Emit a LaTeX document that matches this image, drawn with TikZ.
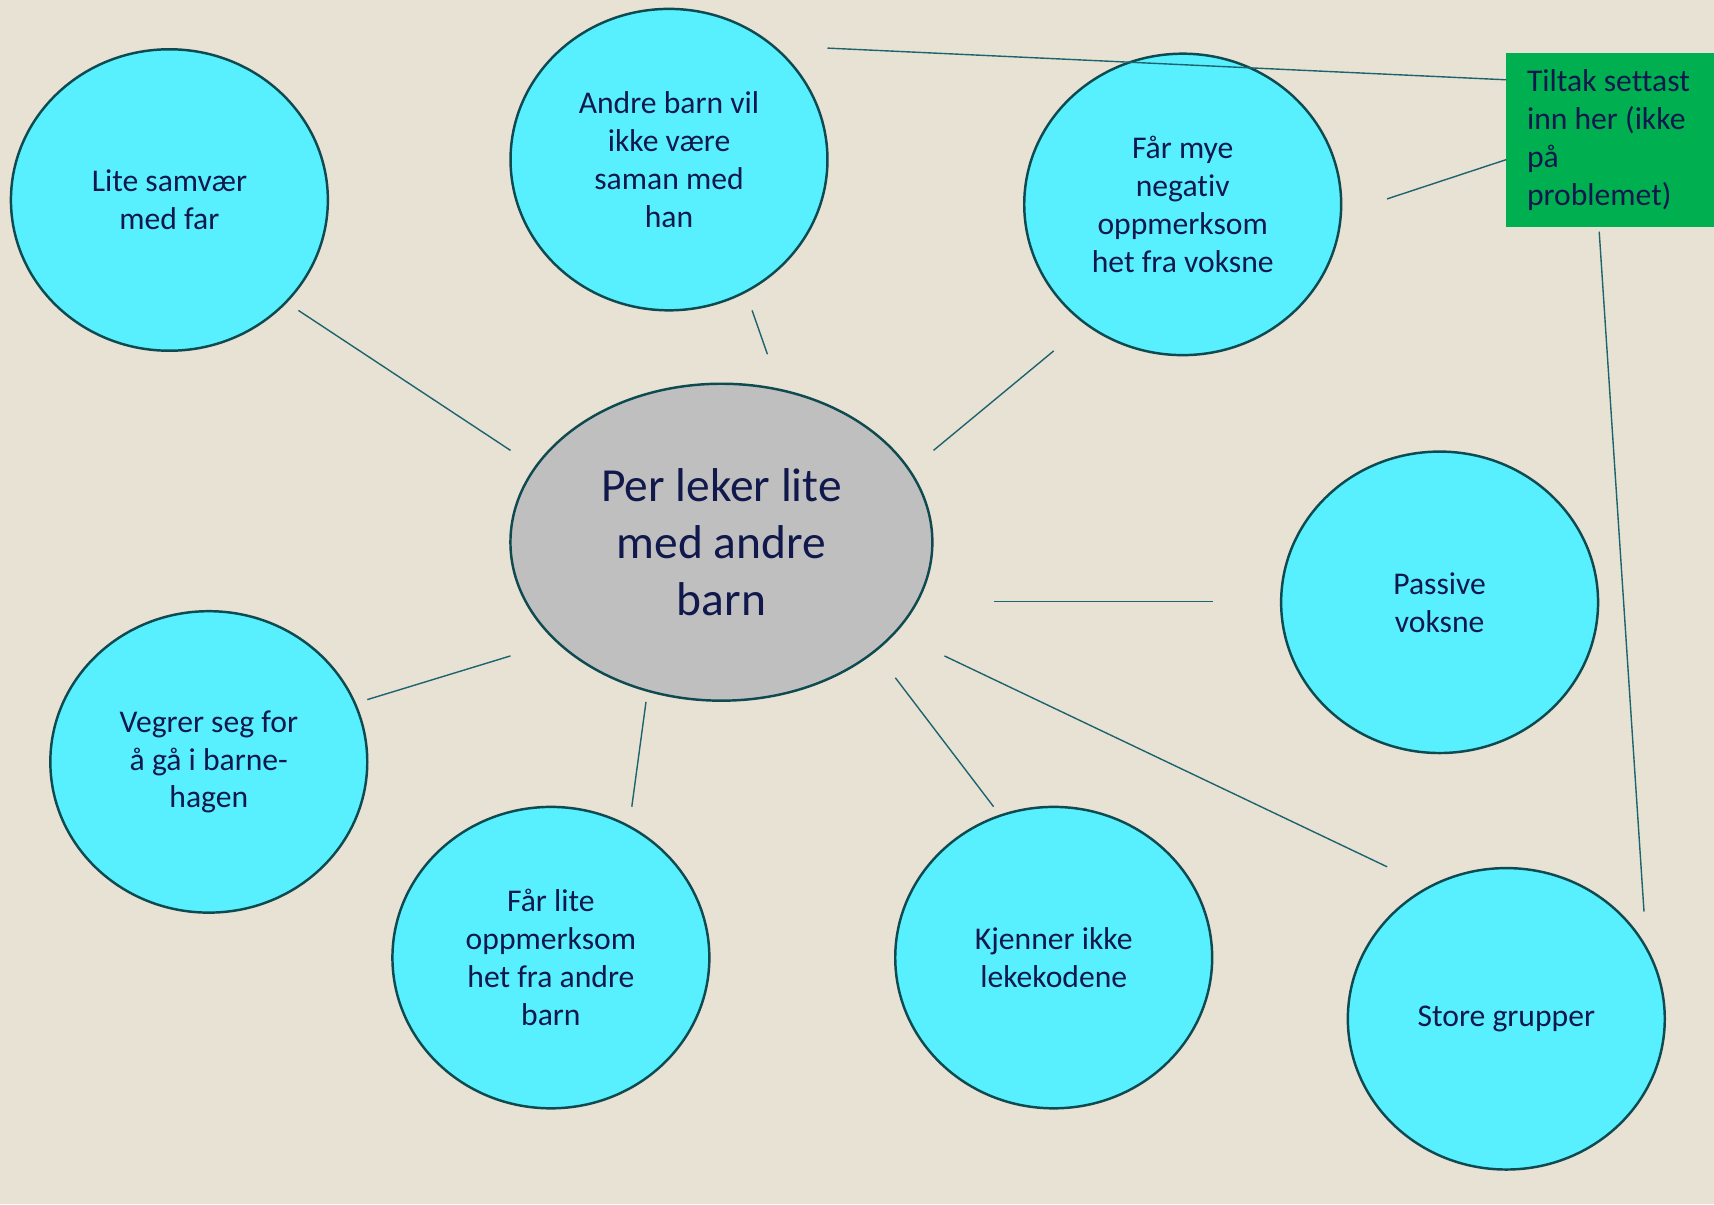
\documentclass[tikz,border=0pt]{standalone}
\usepackage{fontspec}
\setmainfont{Carlito}[Ligatures={NoCommon}]
\usepackage{tikz}
\usetikzlibrary{shapes,calc,positioning}
\definecolor{bakgrunn}{RGB}{232,226,212}
\definecolor{turkis}{RGB}{88,240,255}
\definecolor{kant}{RGB}{14,74,80}
\definecolor{strekfarge}{RGB}{30,100,110}
\definecolor{gra}{RGB}{191,191,191}
\definecolor{gronn}{RGB}{0,176,80}
\definecolor{tekst}{RGB}{16,24,76}
\tikzstyle{boble} =[ellipse, draw=kant, fill=turkis, line width=1.4pt,
                    minimum width=6.34cm, minimum height=6.03cm,
                    inner sep=0pt, align=center, text=tekst,
                    font=\fontsize{18}{21.6}\selectfont]
\tikzstyle{senter}=[ellipse, draw=kant, fill=gra, line width=1.4pt,
                    minimum width=8.44cm, minimum height=6.34cm,
                    inner sep=0pt, align=center, text=tekst,
                    font=\fontsize{27}{32.4}\selectfont]
\tikzstyle{tiltak}=[rectangle, fill=gronn, minimum width=4.16cm,
                    minimum height=3.5cm, inner xsep=0.42cm, inner ysep=0pt,
                    text width=3.32cm, align=flush left, text=tekst,
                    font=\fontsize{18}{21.6}\selectfont]
\tikzstyle{strek} =[draw=strekfarge, line width=0.8pt]

\begin{document}
\begin{tikzpicture}[x=0.02cm,y=-0.02cm]
    \fill[bakgrunn] (0,0) rectangle (1714,1204);
    \useasboundingbox (0,0) rectangle (1714,1204);

    \draw (721.4,542.2) node (per) [senter] {Per leker lite\\med andre\\barn};
    \draw (169.4,200) node (samvaer) [boble] {Lite samvær\\med far};
    \draw (669,159.6) node (andre) [boble] {Andre barn vil\\ikke være\\saman med\\han};
    \draw (1182.7,204.4) node (negativ) [boble] {Får mye\\negativ\\oppmerksom\\het fra voksne};
    \draw (1439.6,602.3) node (passive) [boble] {Passive\\voksne};
    \draw (208.8,761.9) node (vegrer) [boble] {Vegrer seg for\\å gå i barne-\\hagen};
    \draw (550.9,957.6) node (faarlite) [boble] {Får lite\\oppmerksom\\het fra andre\\barn};
    \draw (1053.7,957.6) node (kjenner) [boble] {Kjenner ikke\\lekekodene};
    \draw (1506.3,1018.8) node (grupper) [boble] {Store grupper};
    \draw (1610,140) node (tiltak) [tiltak] {Tiltak settast\\inn her (ikke\\på\\problemet)};

    % endepunkt for strekane
    \coordinate (a1) at (298.4,310.4);   \coordinate (b1) at (510.5,450.4);
    \coordinate (a2) at (752.1,310.4);   \coordinate (b2) at (767.4,354.2);
    \coordinate (a3) at (1053.7,350.9);  \coordinate (b3) at (933.5,450.4);
    \coordinate (a4) at (993.6,601.2);   \coordinate (b4) at (1213.3,601.2);
    \coordinate (a5) at (367.3,699.6);   \coordinate (b5) at (510.5,655.9);
    \coordinate (a6) at (646.0,701.8);   \coordinate (b6) at (631.8,806.7);
    \coordinate (a7) at (895.3,677.7);   \coordinate (b7) at (993.6,806.7);
    \coordinate (a8) at (944.4,655.9);   \coordinate (b8) at (1387.1,866.8);
    \coordinate (a9) at (827.5,48.1);    \coordinate (b9) at (1506.3,79.8);
    \coordinate (a10) at (1387.1,198.9); \coordinate (b10) at (1506.3,159.6);
    \coordinate (a11) at (1599.2,231.7); \coordinate (b11) at (1644.0,911.6);

    \foreach \i in {1,...,11}
    \draw [strek] (a\i) to (b\i);

\end{tikzpicture}
\end{document}
